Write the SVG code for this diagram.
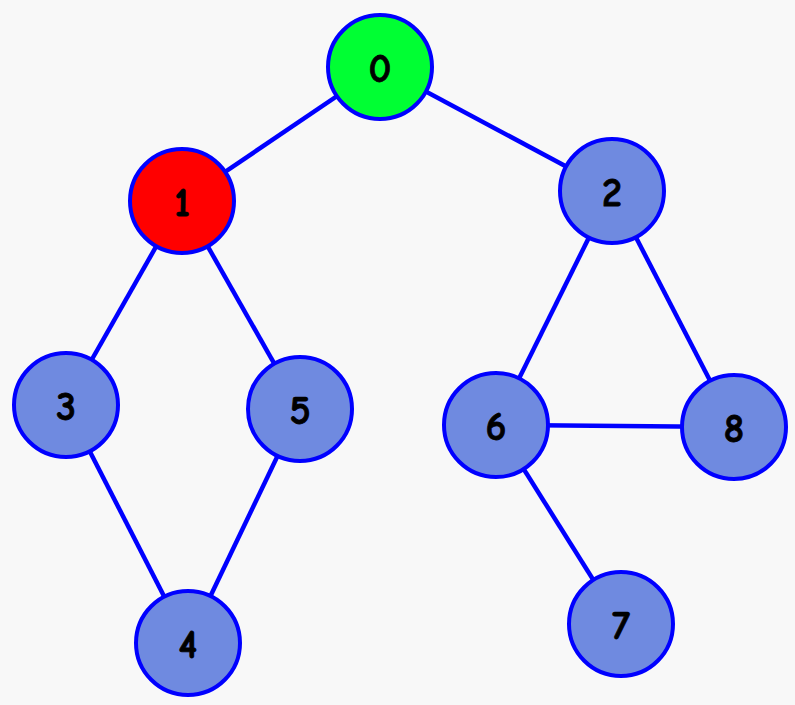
<svg xmlns="http://www.w3.org/2000/svg" width="795" height="705" viewBox="0 0 795 705">
<style>
.edge{stroke:#0000ff;stroke-width:4.5;fill:none}
.node circle{stroke:#0000ff;stroke-width:4;fill:#6f8ae0}
.node text{font-family:"Comic Neue","DejaVu Sans",sans-serif;font-weight:bold;font-size:40px;fill:#000;stroke:#000;stroke-width:0.8;text-anchor:middle;dominant-baseline:central}
</style>
<rect width="795" height="705" fill="#f8f8f8"/>
<g id="edges">
<line class="edge" x1="380" y1="67" x2="182" y2="201"/>
<line class="edge" x1="380" y1="67" x2="612" y2="191"/>
<line class="edge" x1="182" y1="201" x2="66" y2="405"/>
<line class="edge" x1="182" y1="201" x2="300" y2="409"/>
<line class="edge" x1="66" y1="405" x2="188" y2="643"/>
<line class="edge" x1="300" y1="409" x2="188" y2="643"/>
<line class="edge" x1="612" y1="191" x2="496" y2="425"/>
<line class="edge" x1="612" y1="191" x2="734" y2="427"/>
<line class="edge" x1="496" y1="425" x2="734" y2="427"/>
<line class="edge" x1="496" y1="425" x2="621" y2="624"/>
</g>
<g id="node0" class="node"><circle cx="380" cy="67" r="52" style="fill:#00ff33"/><text x="380" y="69">0</text></g>
<g id="node1" class="node"><circle cx="182" cy="201" r="52" style="fill:#ff0000"/><text x="182" y="203">1</text></g>
<g id="node2" class="node"><circle cx="612" cy="191" r="52"/><text x="612" y="193">2</text></g>
<g id="node3" class="node"><circle cx="66" cy="405" r="52"/><text x="66" y="407">3</text></g>
<g id="node5" class="node"><circle cx="300" cy="409" r="52"/><text x="300" y="411">5</text></g>
<g id="node6" class="node"><circle cx="496" cy="425" r="52"/><text x="496" y="427">6</text></g>
<g id="node8" class="node"><circle cx="734" cy="427" r="52"/><text x="734" y="429">8</text></g>
<g id="node4" class="node"><circle cx="188" cy="643" r="52"/><text x="188" y="645">4</text></g>
<g id="node7" class="node"><circle cx="621" cy="624" r="52"/><text x="621" y="626">7</text></g>
</svg>
